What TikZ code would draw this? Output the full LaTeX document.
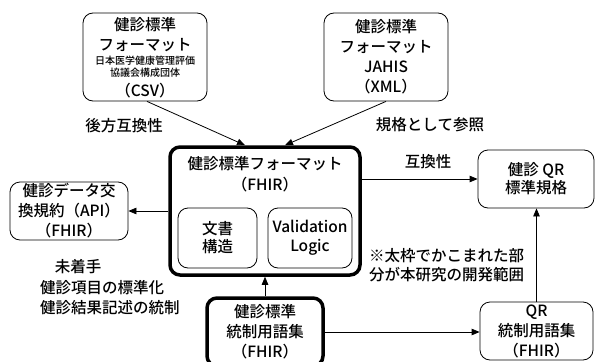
\documentclass[tikz,border=0pt]{standalone}
\usepackage{fontspec}
\setmainfont{Noto Sans CJK JP}[UprightFont=* Medium]
\usetikzlibrary{arrows.meta,calc}
\begin{document}
\begin{tikzpicture}[x=1pt,y=-1pt,
  box/.style={draw,rounded corners=10pt,line width=0.8pt,align=center,inner sep=0pt,font=\fontsize{15.5}{20}\selectfont},
  thickbox/.style={box,line width=3.5pt},
  txt/.style={inner sep=0pt,align=center,font=\fontsize{15.5}{20}\selectfont},
  small/.style={inner sep=0pt,font=\fontsize{10}{12}\selectfont},
  arr/.style={-{Triangle[length=8pt,width=6.5pt]},line width=0.8pt}]
\useasboundingbox (0,0) rectangle (596,361);
% top boxes
\node[box,minimum width=124pt,minimum height=88pt] (csv) at (145,57) {};
\node[txt] (csv1) at (145,25) {健診標準};
\node[txt] (csv2) at (145,45) {フォーマット};
\node[small] (csv3) at (145,61) {日本医学健康管理評価};
\node[small] (csv4) at (145,73) {協議会構成団体};
\node[txt] (csv5) at (145,91) {（CSV）};
\node[box,minimum width=124pt,minimum height=88pt] (xml) at (386,57) {健診標準\\フォーマット\\JAHIS\\（XML）};
% main
\node[thickbox,minimum width=190pt,minimum height=128pt] (main) at (265,211) {};
\node[txt,font=\fontsize{15.5}{21}\selectfont] (maint) at (265,174) {健診標準フォーマット\\（FHIR）};
\node[box,minimum width=79pt,minimum height=60pt,font=\fontsize{15.5}{18}\selectfont] (doc) at (217.5,238) {文書\\構造};
\node[box,minimum width=84pt,minimum height=60pt,font=\fontsize{15.5}{19}\selectfont] (val) at (310,238) {Validation\\Logic};
% side boxes
\node[box,minimum width=118pt,minimum height=58pt] (api) at (69,211) {健診データ交\\換規約（API）\\（FHIR）};
\node[box,minimum width=116pt,minimum height=58pt,font=\fontsize{15.5}{18}\selectfont] (qr) at (536,179) {健診 QR\\標準規格};
\node[thickbox,minimum width=116pt,minimum height=68pt] (voc) at (265,332) {健診標準\\統制用語集\\（FHIR）};
\node[box,minimum width=113pt,minimum height=58pt] (qrv) at (536.5,331) {QR\\統制用語集\\（FHIR）};
% labels
\node[txt] (l1) at (124,126) {後方互換性};
\node[txt] (l2) at (430,125) {規格として参照};
\node[txt] (l3) at (428,162) {互換性};
\node[txt] (l4) at (78,267) {未着手};
\node[txt,anchor=west,align=left] (l5) at (40,298) {健診項目の標準化\\健診結果記述の統制};
\node[txt,anchor=west,align=left,font=\fontsize{15.5}{19}\selectfont] (l6) at (369,265.5) {※太枠でかこまれた部\\分が本研究の開発範囲};
% connectors
\draw[arr] ($(csv.south)+(2,0)$) -- ($(main.north)+(-20,0)$);
\draw[arr] (xml.south) -- ($(main.north)+(20,0)$);
\draw[arr] (main.east |- qr.west) -- (qr.west);
\draw[arr] (main.west) -- (api.east);
\draw[arr] (voc.north) -- (main.south);
\draw[arr] (voc.east) -- (voc.east -| qrv.west);
\draw[arr] (qrv.north) -- (qrv.north |- qr.south);
\end{tikzpicture}
\end{document}
